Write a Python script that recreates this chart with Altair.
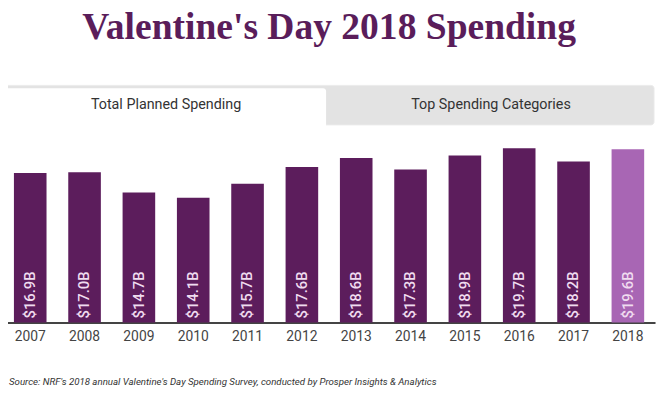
import altair as alt
import pandas as pd

years = ["2007", "2008", "2009", "2010", "2011", "2012", "2013", "2014", "2015", "2016", "2017", "2018"]
spending = [16.9, 17.0, 14.7, 14.1, 15.7, 17.6, 18.6, 17.3, 18.9, 19.7, 18.2, 19.6]
labels = ["$16.9B", "$17.0B", "$14.7B", "$14.1B", "$15.7B", "$17.6B", "$18.6B", "$17.3B", "$18.9B", "$19.7B", "$18.2B", "$19.6B"]
highlight = ["past"] * 11 + ["current"]

title_text = "Valentine's Day 2018 Spending"
tab_labels = ["Total Planned Spending", "Top Spending Categories"]
source_text = "Source: NRF's 2018 annual Valentine's Day Spending Survey, conducted by Prosper Insights & Analytics"

df = pd.DataFrame({"Year": years, "Spending": spending, "Label": labels, "Group": highlight})
one = pd.DataFrame({"a": [0]})

xscale = alt.Scale(range=[-5, 655], paddingInner=0.4, paddingOuter=0.2)
xenc = alt.X("Year:N", scale=xscale, sort=years,
             axis=alt.Axis(title=None, labelAngle=0, ticks=False, domainColor="#444444",
                           domainWidth=2, labelPadding=7, labelFontSize=14, labelColor="#444444",
                           labelFont="Roboto", grid=False))

bars = alt.Chart(df).mark_bar().encode(
    x=xenc,
    y=alt.Y("Spending:Q", scale=alt.Scale(domain=[0, 20]), axis=None),
    color=alt.Color("Group:N", scale=alt.Scale(domain=["past", "current"], range=["#5c1d5c", "#a866b4"]), legend=None),
)

bar_labels = alt.Chart(df).mark_text(angle=270, align="left", baseline="middle", font="Roboto",
                                     fontSize=15, fontWeight=500, color="#f0dcf0").encode(
    x=alt.X("Year:N", scale=xscale, sort=years),
    y=alt.value(175),
    text="Label:N",
)

title = alt.Chart(one).mark_text(font="Liberation Serif", fontWeight="bold", fontSize=38,
                                 color="#5a1d5a", align="center", baseline="alphabetic").encode(
    x=alt.value(325), y=alt.value(-108), text=alt.value(title_text))

tab_bg = alt.Chart(one).mark_rect(color="#e3e3e3", stroke="#ebebeb", strokeWidth=1, cornerRadius=3).encode(
    x=alt.value(-5), x2=alt.value(654), y=alt.value(-61), y2=alt.value(-21))
tab_active = alt.Chart(one).mark_rect(color="#ffffff", cornerRadiusTopLeft=3, cornerRadiusTopRight=3).encode(
    x=alt.value(-3), x2=alt.value(322), y=alt.value(-58), y2=alt.value(-19))
tab1 = alt.Chart(one).mark_text(font="Roboto", fontSize=14.5, color="#333333", align="center", baseline="middle").encode(
    x=alt.value(160), y=alt.value(-41), text=alt.value(tab_labels[0]))
tab2 = alt.Chart(one).mark_text(font="Roboto", fontSize=14.5, color="#333333", align="center", baseline="middle").encode(
    x=alt.value(489), y=alt.value(-41), text=alt.value(tab_labels[1]))

source = alt.Chart(one).mark_text(font="Roboto", fontStyle="italic", fontSize=9.8, color="#333333",
                                  align="left", baseline="middle").encode(
    x=alt.value(1), y=alt.value(239), text=alt.value(source_text))

chart = alt.layer(tab_bg, tab_active, tab1, tab2, title, bars, bar_labels, source).properties(
    width=658, height=179,
    autosize=alt.AutoSizeParams(type="none"),
    padding={"left": 0, "top": 137, "right": 0, "bottom": 66},
    background="#ffffff",
).configure_view(stroke=None)

chart.save("out.html", embed_options={"renderer": "svg", "actions": False})
